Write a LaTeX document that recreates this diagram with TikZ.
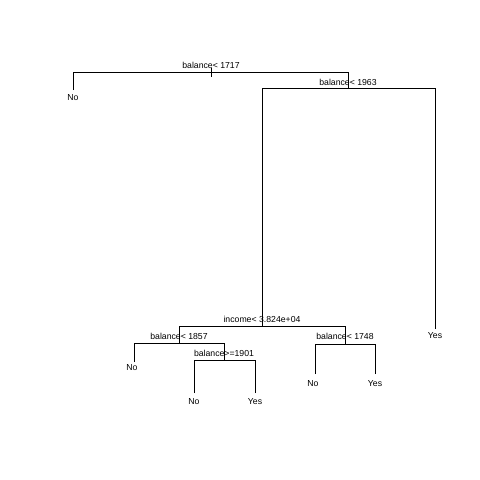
\documentclass[tikz,border=0pt]{standalone}
\usepackage{fontspec}
\setmainfont{Liberation Sans}
\usetikzlibrary{positioning}

\begin{document}
\begin{tikzpicture}[
    x=1pt, y=-1pt,
    branch/.style={draw, line width=0.8pt},
    split/.style={anchor=base, inner sep=0pt, font=\fontsize{8.7}{10}\selectfont},
    leaf/.style={anchor=base, inner sep=0pt, font=\fontsize{8.7}{10}\selectfont}
]
\useasboundingbox (0,0) rectangle (480,480);

% split points
\coordinate (root) at (211,72);
\coordinate (b1963) at (348,88);
\coordinate (inc) at (262,326);
\coordinate (b1857) at (179,343);
\coordinate (b1748) at (345,344);
\coordinate (b1901) at (224,360);
% leaf ends
\coordinate (no1) at (73,90);
\coordinate (yes1) at (435,329);
\coordinate (no2) at (134,362);
\coordinate (no3) at (194,393);
\coordinate (yes2) at (255,393);
\coordinate (no4) at (315,374);
\coordinate (yes3) at (375,374);

% branches
\draw[branch] ([yshift=4pt]root) -- ([yshift=-5pt]root);
\draw[branch] (no1) |- (root);
\draw[branch] (b1963) |- (root);
\draw[branch] (inc) |- (b1963);
\draw[branch] (yes1) |- (b1963);
\draw[branch] (b1857) |- (inc);
\draw[branch] (b1748) |- (inc);
\draw[branch] (no2) |- (b1857);
\draw[branch] (b1901) |- (b1857);
\draw[branch] (no3) |- (b1901);
\draw[branch] (yes2) |- (b1901);
\draw[branch] (no4) |- (b1748);
\draw[branch] (yes3) |- (b1748);

% split labels
\node[split] (lroot) at ([yshift=3.5pt]root) {balance< 1717};
\node[split] (lb1963) at ([yshift=3pt]b1963) {balance< 1963};
\node[split] (linc) at ([yshift=3.5pt]inc) {income< 3.824e+04};
\node[split] (lb1857) at ([yshift=3.5pt]b1857) {balance< 1857};
\node[split] (lb1748) at ([yshift=4.5pt]b1748) {balance< 1748};
\node[split] (lb1901) at ([yshift=3.5pt]b1901) {balance>=1901};

% leaf labels
\node[leaf] (lno1) at ([yshift=-10.5pt]no1) {No};
\node[leaf] (lyes1) at ([yshift=-9pt]yes1) {Yes};
\node[leaf] (lno2) at ([xshift=-2pt,yshift=-8.5pt]no2) {No};
\node[leaf] (lno3) at ([yshift=-11pt]no3) {No};
\node[leaf] (lyes2) at ([yshift=-11pt]yes2) {Yes};
\node[leaf] (lno4) at ([xshift=-2pt,yshift=-12pt]no4) {No};
\node[leaf] (lyes3) at ([yshift=-12pt]yes3) {Yes};
\end{tikzpicture}
\end{document}
